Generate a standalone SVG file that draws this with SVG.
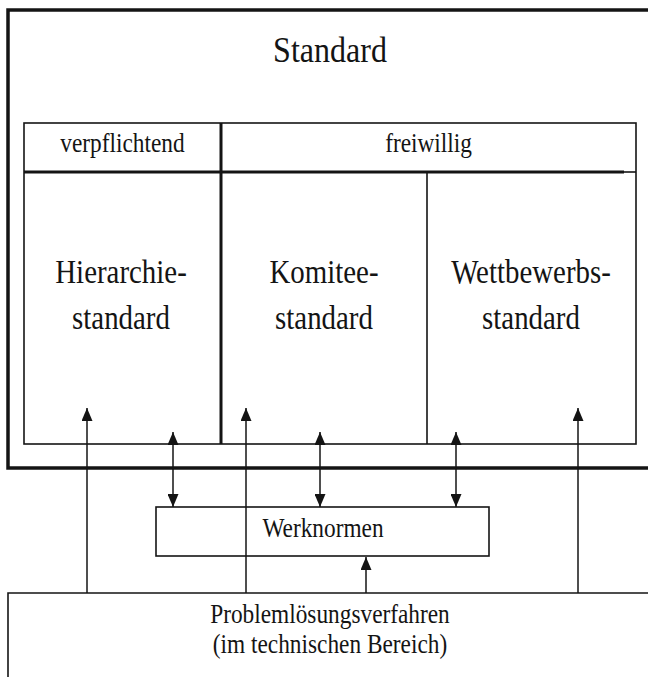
<svg xmlns="http://www.w3.org/2000/svg" width="648" height="677" viewBox="0 0 648 677">
  <style>
    .txt { font-family: "Liberation Serif", "Times New Roman", serif; fill: #141414; text-anchor: middle; }
    .title { font-size: 36px; }
    .cell { font-size: 34px; }
    .small { font-size: 26.5px; }
    .thin { fill: none; stroke: #141414; stroke-width: 1.6; }
    .thick { fill: none; stroke: #141414; stroke-width: 3.5; }
    .mid { fill: none; stroke: #141414; stroke-width: 3; }
    .conn { fill: none; stroke: #141414; stroke-width: 1.5; }
  </style>
  <defs>
    <marker id="head" markerUnits="userSpaceOnUse" markerWidth="13" markerHeight="11" refX="13" refY="5.5" orient="auto-start-reverse">
      <path d="M0,0 L13,5.5 L0,11 z" fill="#141414"/>
    </marker>
  </defs>
  <rect width="648" height="677" fill="#ffffff"/>

  <!-- outer frame: Standard -->
  <g id="standard">
    <path class="thick" d="M652,10 L8,10 L8,468 L652,468"/>
    <text class="txt title" transform="translate(330 62) scale(0.89 1)">Standard</text>
  </g>

  <!-- classification table -->
  <g id="table">
    <rect class="thin" x="24" y="123" width="612" height="321"/>
    <line class="mid" x1="24" y1="172" x2="624" y2="172"/>
    <line class="thin" x1="624" y1="172" x2="636" y2="172"/>
    <line class="mid" x1="221" y1="123" x2="221" y2="444"/>
    <line class="thin" x1="427" y1="172" x2="427" y2="444"/>
  </g>

  <g id="verpflichtend">
    <text class="txt small" transform="translate(122.5 152) scale(0.88 1)">verpflichtend</text>
  </g>
  <g id="freiwillig">
    <text class="txt small" transform="translate(428.5 152) scale(0.88 1)">freiwillig</text>
  </g>

  <g id="hierarchiestandard">
    <text class="txt cell" transform="translate(121 283) scale(0.85 1)">Hierarchie-</text>
    <text class="txt cell" transform="translate(121 329) scale(0.85 1)">standard</text>
  </g>
  <g id="komiteestandard">
    <text class="txt cell" transform="translate(324 283) scale(0.85 1)">Komitee-</text>
    <text class="txt cell" transform="translate(324 329) scale(0.85 1)">standard</text>
  </g>
  <g id="wettbewerbsstandard">
    <text class="txt cell" transform="translate(531 283) scale(0.85 1)">Wettbewerbs-</text>
    <text class="txt cell" transform="translate(531 329) scale(0.85 1)">standard</text>
  </g>

  <!-- company norms -->
  <g id="werknormen">
    <rect class="thin" x="156" y="507" width="333" height="49"/>
    <text class="txt small" transform="translate(323 537) scale(0.88 1)">Werknormen</text>
  </g>

  <!-- technical problem solving -->
  <g id="problemloesung">
    <path class="thin" d="M652,593 L8,593 L8,680"/>
    <text class="txt small" transform="translate(330 623) scale(0.88 1)">Problemlösungsverfahren</text>
    <text class="txt small" transform="translate(330 653) scale(0.88 1)">(im technischen Bereich)</text>
  </g>

  <!-- connectors -->
  <g id="connectors">
    <line class="conn" x1="87" y1="593" x2="87" y2="408" marker-end="url(#head)"/>
    <line class="conn" x1="246" y1="593" x2="246" y2="408" marker-end="url(#head)"/>
    <line class="conn" x1="578" y1="593" x2="578" y2="408" marker-end="url(#head)"/>
    <line class="conn" x1="366" y1="593" x2="366" y2="557" marker-end="url(#head)"/>
    <line class="conn" x1="173" y1="507" x2="173" y2="432" marker-start="url(#head)" marker-end="url(#head)"/>
    <line class="conn" x1="320" y1="507" x2="320" y2="432" marker-start="url(#head)" marker-end="url(#head)"/>
    <line class="conn" x1="456" y1="507" x2="456" y2="432" marker-start="url(#head)" marker-end="url(#head)"/>
  </g>
</svg>
